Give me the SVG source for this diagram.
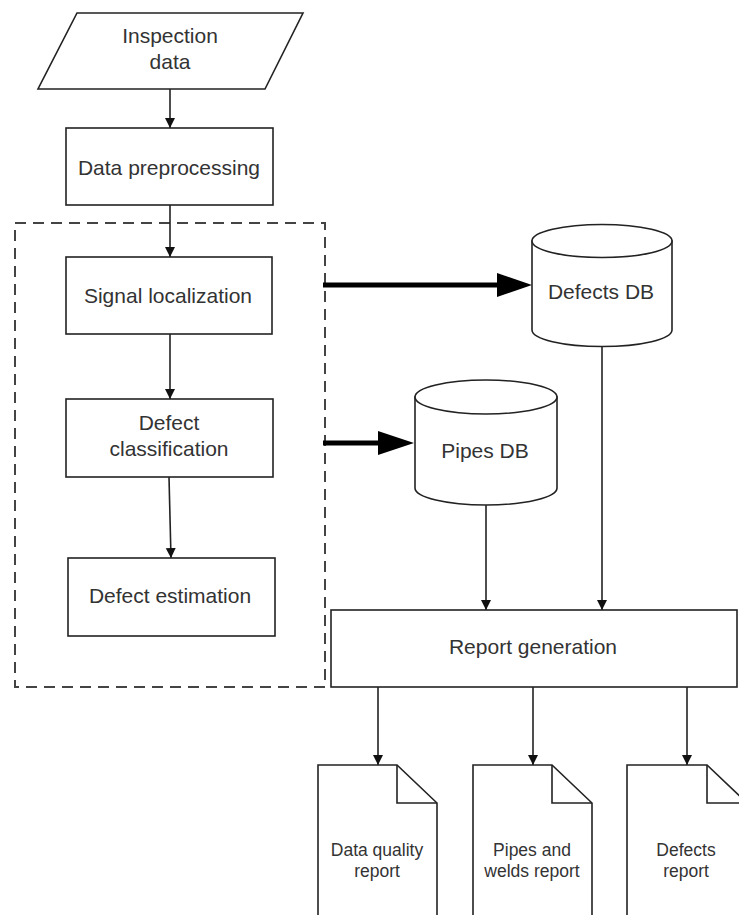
<svg xmlns="http://www.w3.org/2000/svg" width="739" height="915" viewBox="0 0 739 915">
<style>
.s{fill:#fff;stroke:#222;stroke-width:1.6}
.t{font-family:"Liberation Sans",Arial,sans-serif;font-size:21px;fill:#333;text-anchor:middle}
.d{font-family:"Liberation Sans",Arial,sans-serif;font-size:17.5px;fill:#333;text-anchor:middle}
.c{stroke:#222;stroke-width:1.6;fill:none}
.tk{stroke:#000;stroke-width:5;fill:none}
</style>
<defs>
<marker id="ah" markerWidth="10" markerHeight="12" refX="10" refY="6" orient="auto" markerUnits="userSpaceOnUse">
<path d="M0,1 L10,6 L0,11 Z" fill="#111"/>
</marker>
</defs>
<rect width="739" height="915" fill="#fff"/>
<g id="group-box">
<rect x="15" y="223" width="310" height="464" fill="none" stroke="#444" stroke-width="2" stroke-dasharray="11,7"/>
</g>
<g id="connectors">
<line class="c" x1="170" y1="89" x2="170" y2="128" marker-end="url(#ah)"/>
<line class="c" x1="170" y1="205" x2="170" y2="257" marker-end="url(#ah)"/>
<line class="c" x1="170" y1="334" x2="170" y2="399" marker-end="url(#ah)"/>
<line class="c" x1="169" y1="477" x2="171" y2="558" marker-end="url(#ah)"/>
<line class="tk" x1="323" y1="285" x2="500" y2="285"/>
<path d="M497,273 L532,285 L497,297 Z" fill="#000"/>
<line class="tk" x1="323" y1="443" x2="381" y2="443"/>
<path d="M378,431 L414,443 L378,455 Z" fill="#000"/>
<line class="c" x1="602" y1="347" x2="602" y2="610" marker-end="url(#ah)"/>
<line class="c" x1="486" y1="505" x2="486" y2="610" marker-end="url(#ah)"/>
<line class="c" x1="378" y1="687" x2="378" y2="765" marker-end="url(#ah)"/>
<line class="c" x1="533" y1="687" x2="533" y2="765" marker-end="url(#ah)"/>
<line class="c" x1="687" y1="687" x2="687" y2="765" marker-end="url(#ah)"/>
</g>
<g id="inspection-data">
<path class="s" d="M77,13 L303,13 L265,89 L38,89 Z"/>
<text class="t" x="170" y="43">Inspection</text>
<text class="t" x="170" y="69">data</text>
</g>
<g id="data-preprocessing">
<rect class="s" x="66" y="128" width="207" height="77"/>
<text class="t" x="169" y="175">Data preprocessing</text>
</g>
<g id="signal-localization">
<rect class="s" x="66" y="257" width="206" height="77"/>
<text class="t" x="168" y="303">Signal localization</text>
</g>
<g id="defect-classification">
<rect class="s" x="66" y="399" width="207" height="78"/>
<text class="t" x="169" y="430">Defect</text>
<text class="t" x="169" y="456">classification</text>
</g>
<g id="defect-estimation">
<rect class="s" x="68" y="558" width="207" height="78"/>
<text class="t" x="170" y="603">Defect estimation</text>
</g>
<g id="defects-db">
<path class="s" d="M532,241 L532,330 A70,16.5 0 0 0 672,330 L672,241 Z"/>
<ellipse class="s" cx="602" cy="241" rx="70" ry="16.5"/>
<text class="t" x="601" y="299">Defects DB</text>
</g>
<g id="pipes-db">
<path class="s" d="M415,397 L415,488 A71,17 0 0 0 557,488 L557,397 Z"/>
<ellipse class="s" cx="486" cy="397" rx="71" ry="17"/>
<text class="t" x="485" y="458">Pipes DB</text>
</g>
<g id="report-generation">
<rect class="s" x="331" y="610" width="406" height="77"/>
<text class="t" x="533" y="654">Report generation</text>
</g>
<g id="data-quality-report">
<path class="s" d="M318,765 L397,765 L437,803 L437,925 L318,925 Z"/>
<path class="c" d="M397,765 L397,803 L437,803"/>
<text class="d" x="377" y="856">Data quality</text>
<text class="d" x="377" y="877">report</text>
</g>
<g id="pipes-welds-report">
<path class="s" d="M473,765 L552,765 L592,803 L592,925 L473,925 Z"/>
<path class="c" d="M552,765 L552,803 L592,803"/>
<text class="d" x="532" y="856">Pipes and</text>
<text class="d" x="532" y="877">welds report</text>
</g>
<g id="defects-report">
<path class="s" d="M627,765 L707,765 L747,803 L747,925 L627,925 Z"/>
<path class="c" d="M707,765 L707,803 L747,803"/>
<text class="d" x="686" y="856">Defects</text>
<text class="d" x="686" y="877">report</text>
</g>
</svg>
